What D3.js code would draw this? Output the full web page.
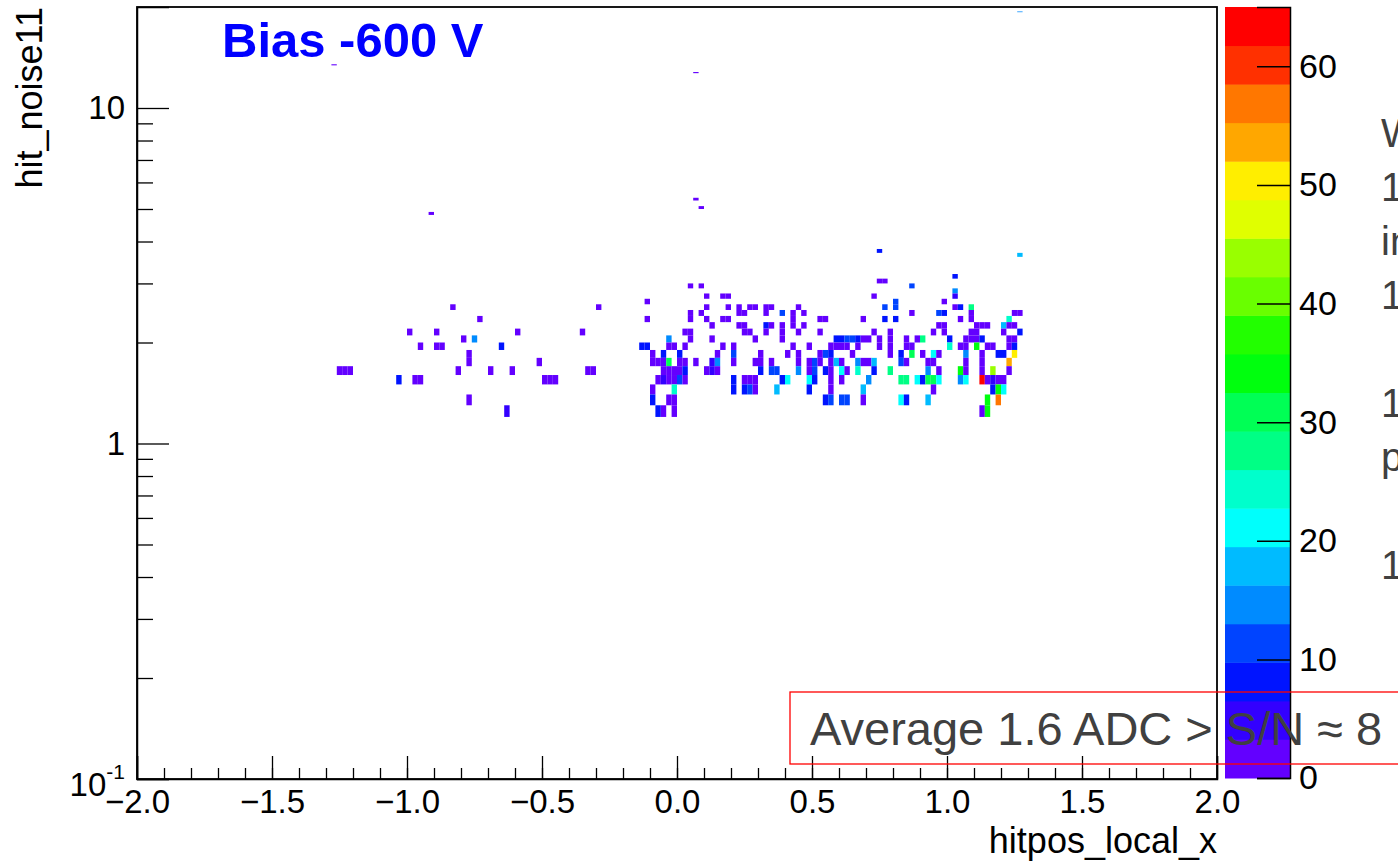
<!DOCTYPE html>
<html>
<head>
<meta charset="utf-8">
<script src="https://cdn.jsdelivr.net/npm/d3@7"></script>
<style>
  body { margin: 0; background: #fff; }
  svg { display: block; font-family: "Liberation Sans", Arial, sans-serif; }
</style>
</head>
<body>
<svg id="chart" width="1398" height="864"></svg>
<script>
// histogram binning (ROOT TH2: 200 x 200 bins)
const binW = 0.02;
const binH = 0.1;

// [hitpos_local_x low edge, hit_noise11 low edge, entries]
const sparseHits = [
  [-1.26, 1.6, 1], [-1.24, 1.6, 2], [-1.22, 1.6, 1],
  [-1.04, 1.5, 7], [-0.98, 1.5, 1], [-0.96, 1.5, 2],
  [-0.84, 2.5, 1], [-0.74, 2.3, 1], [-1.00, 2.1, 1], [-0.90, 2.1, 1],
  [-0.96, 1.9, 1], [-0.90, 1.9, 2], [-0.88, 1.9, 1],
  [-0.80, 2.0, 1], [-0.76, 2.0, 15], [-0.78, 1.8, 1], [-0.78, 1.7, 2],
  [-0.82, 1.6, 1], [-0.70, 1.6, 1], [-0.62, 1.6, 1], [-0.66, 1.9, 8],
  [-0.60, 2.1, 1], [-0.52, 1.7, 1],
  [-0.50, 1.5, 2], [-0.48, 1.5, 2], [-0.46, 1.5, 1],
  [-0.78, 1.3, 1], [-0.64, 1.2, 5],
  [-0.36, 2.1, 1], [-0.34, 1.6, 2], [-0.32, 1.6, 1], [-0.30, 2.5, 1]
];

const outlierHits = [
  [-1.28, 13.4, 1], [0.06, 12.7, 1], [0.06, 5.3, 1], [0.08, 5.0, 2],
  [0.74, 3.7, 8], [1.26, 3.6, 18], [1.26, 19.3, 14], [-0.92, 4.8, 1]
];

const coreHits = [
  [1.02, 3.1, 8],
  [0.74, 3.0, 2], [0.76, 3.0, 1],
  [0.04, 2.9, 2], [0.08, 2.9, 1], [0.86, 2.9, 11],
  [1.02, 2.8, 15],
  [0.10, 2.7, 2], [0.16, 2.7, 1], [0.18, 2.7, 2], [0.72, 2.7, 1], [1.02, 2.7, 5],
  [-0.12, 2.6, 1], [0.80, 2.6, 11], [0.98, 2.6, 1],
  [0.10, 2.5, 2], [0.18, 2.5, 1], [0.22, 2.5, 2], [0.26, 2.5, 2], [0.28, 2.5, 1],
  [0.32, 2.5, 2], [0.34, 2.5, 2], [0.44, 2.5, 1], [0.76, 2.5, 11], [0.80, 2.5, 11],
  [1.02, 2.5, 2], [1.04, 2.5, 8], [1.08, 2.5, 28],
  [0.04, 2.4, 2], [0.08, 2.4, 1], [0.22, 2.4, 2], [0.24, 2.4, 2], [0.32, 2.4, 1],
  [0.38, 2.4, 11], [0.42, 2.4, 2], [0.46, 2.4, 1], [0.86, 2.4, 2], [0.96, 2.4, 11],
  [0.98, 2.4, 8], [1.08, 2.4, 2], [1.24, 2.4, 2], [1.26, 2.4, 2],
  [-0.12, 2.3, 1], [0.04, 2.3, 2], [0.10, 2.3, 2], [0.16, 2.3, 1], [0.18, 2.3, 2],
  [0.42, 2.3, 2], [0.52, 2.3, 1], [0.54, 2.3, 2], [0.68, 2.3, 1], [0.76, 2.3, 8],
  [0.80, 2.3, 8], [1.04, 2.3, 2], [1.08, 2.3, 2], [1.22, 2.3, 24],
  [0.12, 2.2, 2], [0.22, 2.2, 2], [0.24, 2.2, 3], [0.32, 2.2, 8], [0.34, 2.2, 2],
  [0.38, 2.2, 1], [0.42, 2.2, 2], [0.46, 2.2, 1], [0.96, 2.2, 2], [0.98, 2.2, 2],
  [1.10, 2.2, 2], [1.12, 2.2, 3], [1.14, 2.2, 2], [1.20, 2.2, 18], [1.22, 2.2, 2], [1.24, 2.2, 3],
  [0.02, 2.1, 2], [0.04, 2.1, 2], [0.24, 2.1, 2], [0.26, 2.1, 3], [0.32, 2.1, 1],
  [0.38, 2.1, 2], [0.44, 2.1, 2], [0.52, 2.1, 1], [0.72, 2.1, 2], [0.78, 2.1, 3],
  [0.94, 2.1, 2], [0.98, 2.1, 1], [1.08, 2.1, 2], [1.10, 2.1, 2], [1.20, 2.1, 2], [1.26, 2.1, 8],
  [-0.04, 2.0, 15], [0.04, 2.0, 2], [0.12, 2.0, 2], [0.28, 2.0, 1], [0.38, 2.0, 2],
  [0.58, 2.0, 8], [0.60, 2.0, 8], [0.62, 2.0, 11], [0.64, 2.0, 11], [0.66, 2.0, 8],
  [0.68, 2.0, 3], [0.70, 2.0, 3], [0.74, 2.0, 2], [0.78, 2.0, 3], [0.84, 2.0, 2],
  [0.88, 2.0, 2], [0.90, 2.0, 28], [1.00, 2.0, 8], [1.06, 2.0, 3], [1.08, 2.0, 3],
  [1.10, 2.0, 3], [1.12, 2.0, 8], [1.22, 2.0, 2], [1.24, 2.0, 3],
  [-0.14, 1.9, 7], [-0.12, 1.9, 8], [-0.04, 1.9, 2], [-0.02, 1.9, 3], [0.02, 1.9, 2],
  [0.16, 1.9, 2], [0.20, 1.9, 2], [0.42, 1.9, 2], [0.48, 1.9, 2], [0.56, 1.9, 3],
  [0.58, 1.9, 2], [0.60, 1.9, 3], [0.62, 1.9, 2], [0.66, 1.9, 2], [0.74, 1.9, 3],
  [0.78, 1.9, 3], [0.84, 1.9, 2], [0.86, 1.9, 2], [1.00, 1.9, 24], [1.04, 1.9, 3],
  [1.06, 1.9, 3], [1.10, 1.9, 34], [1.14, 1.9, 3], [1.16, 1.9, 2], [1.22, 1.9, 3], [1.24, 1.9, 8],
  [-0.10, 1.8, 2], [-0.06, 1.8, 8], [0.00, 1.8, 8], [0.14, 1.8, 2], [0.20, 1.8, 11],
  [0.30, 1.8, 2], [0.40, 1.8, 2], [0.44, 1.8, 3], [0.52, 1.8, 2], [0.54, 1.8, 11],
  [0.56, 1.8, 8], [0.64, 1.8, 2], [0.78, 1.8, 3], [0.82, 1.8, 8], [0.86, 1.8, 31],
  [0.90, 1.8, 3], [0.94, 1.8, 21], [0.96, 1.8, 3], [1.06, 1.8, 15], [1.12, 1.8, 3],
  [1.18, 1.8, 8], [1.20, 1.8, 8], [1.24, 1.8, 50],
  [-0.10, 1.7, 3], [-0.08, 1.7, 3], [-0.06, 1.7, 2], [-0.04, 1.7, 31], [0.00, 1.7, 3],
  [0.02, 1.7, 3], [0.06, 1.7, 2], [0.12, 1.7, 5], [0.14, 1.7, 15], [0.20, 1.7, 2],
  [0.28, 1.7, 3], [0.30, 1.7, 2], [0.34, 1.7, 2], [0.44, 1.7, 3], [0.48, 1.7, 3],
  [0.50, 1.7, 11], [0.52, 1.7, 3], [0.56, 1.7, 2], [0.58, 1.7, 18], [0.60, 1.7, 2],
  [0.66, 1.7, 15], [0.68, 1.7, 3], [0.70, 1.7, 3], [0.72, 1.7, 18], [0.82, 1.7, 11],
  [0.84, 1.7, 3], [0.92, 1.7, 3], [0.94, 1.7, 3], [1.06, 1.7, 3], [1.12, 1.7, 3], [1.22, 1.7, 54],
  [-0.06, 1.6, 3], [-0.04, 1.6, 3], [-0.02, 1.6, 3], [0.00, 1.6, 3], [0.02, 1.6, 8],
  [0.10, 1.6, 3], [0.12, 1.6, 5], [0.14, 1.6, 3], [0.30, 1.6, 8], [0.34, 1.6, 11],
  [0.36, 1.6, 11], [0.44, 1.6, 15], [0.48, 1.6, 3], [0.50, 1.6, 11], [0.54, 1.6, 8],
  [0.56, 1.6, 3], [0.60, 1.6, 21], [0.62, 1.6, 3], [0.66, 1.6, 24], [0.72, 1.6, 8],
  [0.78, 1.6, 28], [0.92, 1.6, 15], [0.96, 1.6, 3], [1.04, 1.6, 34], [1.06, 1.6, 3],
  [1.12, 1.6, 3], [1.16, 1.6, 44], [1.22, 1.6, 3],
  [-0.08, 1.5, 3], [-0.06, 1.5, 5], [-0.04, 1.5, 3], [-0.02, 1.5, 3], [0.00, 1.5, 11],
  [0.02, 1.5, 3], [0.20, 1.5, 8], [0.24, 1.5, 3], [0.26, 1.5, 3], [0.28, 1.5, 2],
  [0.38, 1.5, 8], [0.40, 1.5, 21], [0.48, 1.5, 21], [0.50, 1.5, 8], [0.56, 1.5, 2],
  [0.60, 1.5, 3], [0.70, 1.5, 15], [0.82, 1.5, 28], [0.84, 1.5, 28], [0.88, 1.5, 21],
  [0.90, 1.5, 8], [0.92, 1.5, 31], [0.94, 1.5, 31], [0.96, 1.5, 21], [1.04, 1.5, 15],
  [1.06, 1.5, 21], [1.12, 1.5, 65], [1.14, 1.5, 3], [1.16, 1.5, 5], [1.18, 1.5, 3], [1.20, 1.5, 3],
  [-0.10, 1.4, 2], [-0.02, 1.4, 24], [0.20, 1.4, 8], [0.24, 1.4, 8], [0.26, 1.4, 11],
  [0.28, 1.4, 2], [0.36, 1.4, 18], [0.48, 1.4, 8], [0.56, 1.4, 2], [0.68, 1.4, 18],
  [0.94, 1.4, 2], [1.16, 1.4, 8], [1.18, 1.4, 34], [1.20, 1.4, 21],
  [-0.10, 1.3, 8], [-0.04, 1.3, 2], [-0.02, 1.3, 2], [0.54, 1.3, 8], [0.56, 1.3, 11],
  [0.60, 1.3, 11], [0.62, 1.3, 11], [0.68, 1.3, 2], [0.82, 1.3, 21], [0.84, 1.3, 8],
  [0.92, 1.3, 18], [1.14, 1.3, 34], [1.18, 1.3, 57],
  [-0.08, 1.2, 8], [-0.06, 1.2, 2], [-0.02, 1.2, 2], [1.12, 1.2, 2], [1.14, 1.2, 34]
];

const xMajor = [-2.0, -1.5, -1.0, -0.5, 0.0, 0.5, 1.0, 1.5, 2.0];
const yMajor = [0.1, 1, 10];
const yMinor = [0.2, 0.3, 0.4, 0.5, 0.6, 0.7, 0.8, 0.9, 2, 3, 4, 5, 6, 7, 8, 9];
const zTicks = [0, 10, 20, 30, 40, 50, 60];
const zMax = 65;
const nLevels = 20;
const noteLines = ['W', '1', 'in', '1', '', '1', 'p', '', '1'];

// ROOT "pretty" palette (50 hues, violet -> red), sampled for 20 contours
const palette = d3.range(nLevels).map(k => {
  const idx = Math.floor((k + 0.99) * 50 / nLevels);
  return d3.hsl(280 - (idx + 1) * 5.6, 1, 0.5).formatHex();
});
const level = n => Math.min(nLevels - 1, Math.floor(0.01 + n * nLevels / zMax));

const svg = d3.select('#chart');
svg.append('rect').attr('width', 1398).attr('height', 864).attr('fill', '#fff');

const x = d3.scaleLinear().domain([-2, 2]).range([137, 1217]);
const y = d3.scaleLog().domain([0.1, 20]).range([779, 7]);
const z = d3.scaleLinear().domain([0, zMax]).range([778, 7]);

// cells
const hits = sparseHits.concat(outlierHits, coreHits);
svg.append('g')
  .selectAll('rect')
  .data(hits)
  .join('rect')
    .attr('x', d => x(d[0]))
    .attr('width', d => x(d[0] + binW) - x(d[0]))
    .attr('y', d => y(d[1] + binH))
    .attr('height', d => y(d[1]) - y(d[1] + binH))
    .style('fill', d => palette[level(d[2])]);

// x axis, ticks pointing into the frame
const xAxis = svg.append('g')
  .attr('transform', 'translate(0,779)')
  .call(d3.axisBottom(x).tickValues(xMajor).tickSize(-23).tickPadding(11)
    .tickFormat(d3.format('.1f')));
svg.append('g')
  .attr('transform', 'translate(0,779)')
  .call(d3.axisBottom(x).tickValues(d3.range(-19, 20).map(v => v / 10)).tickSize(-11).tickFormat(''))
  .select('.domain').remove();

// y axis (log)
const yAxis = svg.append('g')
  .attr('transform', 'translate(137,0)')
  .call(d3.axisLeft(y).tickValues(yMajor).tickSize(-32).tickPadding(12)
    .tickFormat(d => d >= 1 ? String(d) : ''));
svg.append('g')
  .attr('transform', 'translate(137,0)')
  .call(d3.axisLeft(y).tickValues(yMinor).tickSize(-16).tickFormat(''))
  .select('.domain').remove();

svg.selectAll('.tick line').attr('stroke', '#000').attr('stroke-width', 1.3);
svg.selectAll('.domain').attr('stroke', '#000').attr('stroke-width', 1.5);
svg.selectAll('.tick text')
  .attr('fill', '#000')
  .attr('font-size', '33px')
  .attr('font-family', '"Liberation Sans", Arial, sans-serif');

// 10^-1 label
const low = yAxis.selectAll('.tick').filter(d => d === 0.1).select('text')
  .attr('dy', '0.5em');
low.append('tspan').text('10');
low.append('tspan').text('-1').attr('font-size', '21px').attr('dy', '-17');

// frame
svg.append('rect')
  .attr('x', 137).attr('y', 7)
  .attr('width', 1080).attr('height', 772)
  .attr('fill', 'none')
  .attr('stroke', '#000')
  .attr('stroke-width', 1.8);

// axis titles
svg.append('text')
  .text('hitpos_local_x')
  .attr('x', 1217).attr('y', 853)
  .attr('text-anchor', 'end')
  .attr('font-size', '36px');

svg.append('text')
  .text('hit_noise11')
  .attr('transform', 'translate(42,7) rotate(-90)')
  .attr('text-anchor', 'end')
  .attr('font-size', '36px');

// colour palette
const bandH = (z(0) - z(zMax)) / nLevels;
svg.append('g')
  .selectAll('rect')
  .data(palette)
  .join('rect')
    .attr('x', 1225)
    .attr('width', 65)
    .attr('y', (d, i) => z(zMax) + (nLevels - 1 - i) * bandH)
    .attr('height', bandH + 0.5)
    .style('fill', d => d);

const zAxis = svg.append('g')
  .attr('transform', 'translate(1290,0)')
  .call(d3.axisRight(z).tickValues(zTicks).tickSize(-33).tickPadding(9));
zAxis.selectAll('line').attr('stroke', '#000').attr('stroke-width', 1.5);
zAxis.select('.domain').attr('stroke', '#000').attr('stroke-width', 1.5);
zAxis.selectAll('text')
  .attr('fill', '#000')
  .attr('font-size', '34px')
  .attr('font-family', '"Liberation Sans", Arial, sans-serif');

// annotation
svg.append('text')
  .text('Bias -600 V')
  .attr('x', 222).attr('y', 57)
  .attr('font-size', '49px')
  .attr('font-weight', 'bold')
  .style('fill', '#0000ff');

svg.append('rect')
  .attr('x', 790).attr('y', 692)
  .attr('width', 640).attr('height', 72)
  .attr('fill', 'none')
  .attr('stroke', '#ff0000')
  .attr('stroke-width', 1.3);

svg.append('text')
  .text('Average 1.6 ADC > S/N \u2248 8')
  .attr('x', 810).attr('y', 745)
  .attr('font-size', '47px')
  .style('fill', '#404040');

// slide text cut off at the right edge
svg.append('g')
  .selectAll('text')
  .data(noteLines)
  .join('text')
    .text(d => d)
    .attr('x', 1381)
    .attr('y', (d, i) => 147 + i * 54)
    .attr('font-size', '40px')
    .style('fill', '#404040');
</script>
</body>
</html>
